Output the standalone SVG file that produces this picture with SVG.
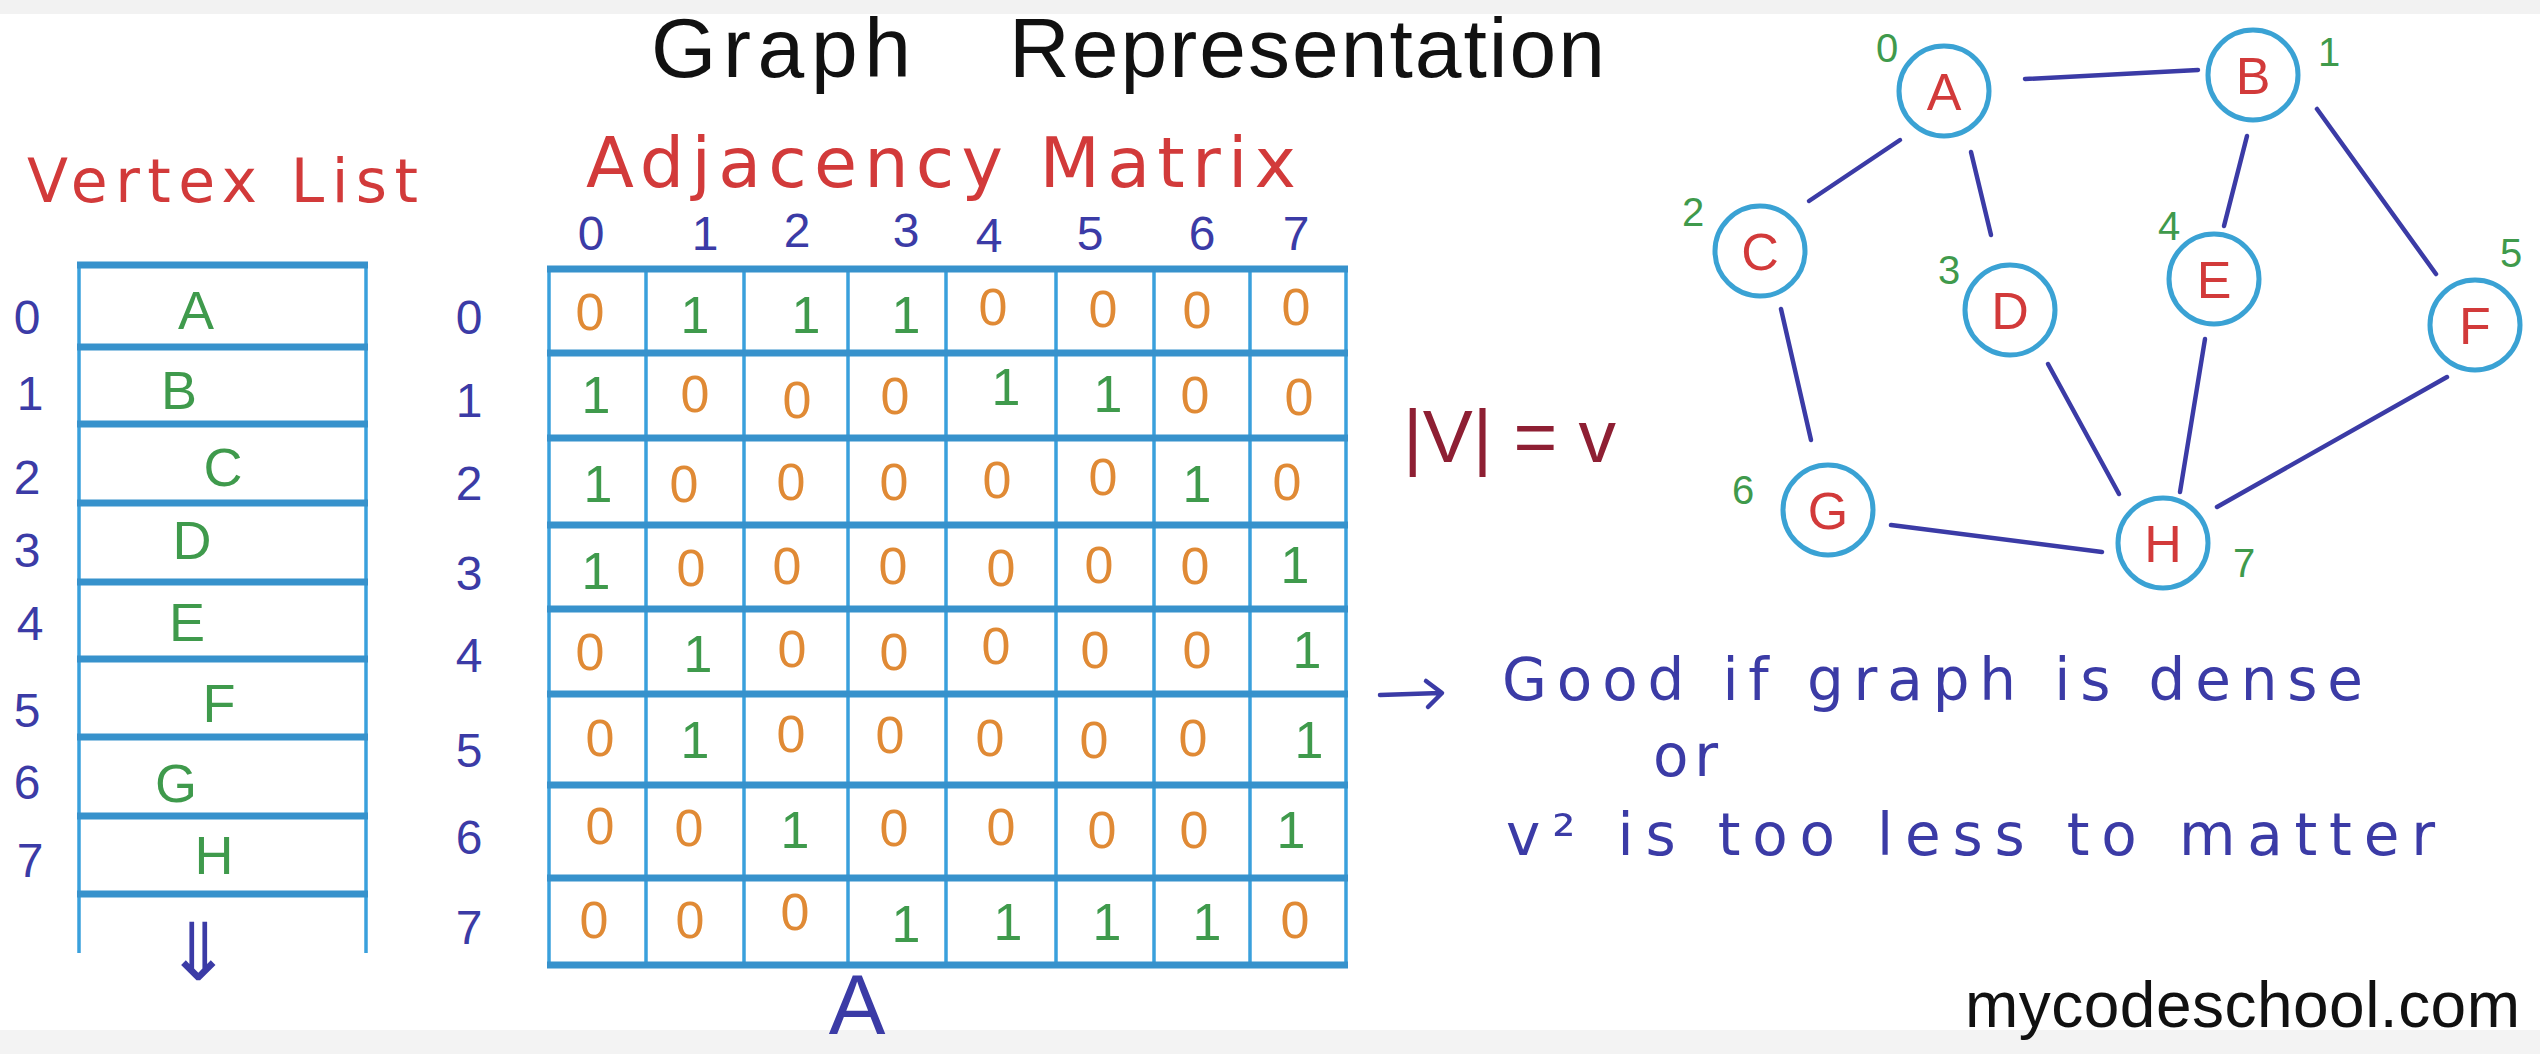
<svg xmlns="http://www.w3.org/2000/svg" width="2540" height="1054" viewBox="0 0 2540 1054">
<style>
  text { font-family: "Liberation Sans", "DejaVu Sans", sans-serif; }
  .hand { font-family: "DejaVu Sans", "Liberation Sans", sans-serif; }
  .title { font-size: 84px; fill: #111; }
  .red { fill: #d23a3a; }
  .blue { fill: #3b3ba6; }
  .green { fill: #3f9a4c; }
  .orange { fill: #e08a35; }
  .idx { font-size: 48px; fill: #3b3ba6; text-anchor: middle; }
  .cell { font-size: 52px; text-anchor: middle; }
  .vl { font-size: 54px; fill: #3f9a4c; text-anchor: middle; }
  .hline { stroke: #3792cc; stroke-width: 7; stroke-linecap: butt; }
  .vline { stroke: #3aa0dc; stroke-width: 3.5; }
  .node circle { fill: #fff; stroke: #3aa2d4; stroke-width: 5; }
  .node text.lbl { font-size: 52px; fill: #d23a3a; text-anchor: middle; }
  .node text.num { font-size: 40px; fill: #3f9a4c; text-anchor: middle; }
  .edge { stroke: #3b3ba6; stroke-width: 4.5; stroke-linecap: round; fill: none; }
  .note { font-size: 58px; fill: #3b3ba6; }
  .pen { stroke: #3b3ba6; stroke-width: 4.5; stroke-linecap: round; stroke-linejoin: round; fill: none; }
</style>
<rect x="0" y="0" width="2540" height="1054" fill="#ffffff"/>
<rect x="0" y="0" width="2540" height="14" fill="#f2f2f2"/>
<rect x="0" y="1030" width="2540" height="24" fill="#f3f3f3"/>

<!-- Title -->
<g id="title">
  <text class="title" x="651" y="77" textLength="260">Graph</text>
  <text class="title" x="1009" y="77" textLength="596">Representation</text>
</g>

<!-- Vertex list -->
<g id="vertex-list">
  <text class="red hand" x="27" y="202" font-size="60" textLength="391">Vertex List</text>
  <g>
    <line class="vline" x1="79" y1="263" x2="79" y2="953"/>
    <line class="vline" x1="366" y1="263" x2="366" y2="953"/>
    <line class="hline" x1="77" y1="265" x2="368" y2="265"/>
    <line class="hline" x1="77" y1="347" x2="368" y2="347"/>
    <line class="hline" x1="77" y1="424" x2="368" y2="424"/>
    <line class="hline" x1="77" y1="503" x2="368" y2="503"/>
    <line class="hline" x1="77" y1="582" x2="368" y2="582"/>
    <line class="hline" x1="77" y1="659" x2="368" y2="659"/>
    <line class="hline" x1="77" y1="737" x2="368" y2="737"/>
    <line class="hline" x1="77" y1="816" x2="368" y2="816"/>
    <line class="hline" x1="77" y1="894" x2="368" y2="894"/>
  </g>
  <text class="idx" x="27" y="334">0</text>
  <text class="idx" x="30" y="410">1</text>
  <text class="idx" x="27" y="494">2</text>
  <text class="idx" x="27" y="567">3</text>
  <text class="idx" x="30" y="640">4</text>
  <text class="idx" x="27" y="727">5</text>
  <text class="idx" x="27" y="799">6</text>
  <text class="idx" x="30" y="877">7</text>
  <text class="vl" x="196" y="329">A</text>
  <text class="vl" x="179" y="409">B</text>
  <text class="vl" x="223" y="486">C</text>
  <text class="vl" x="192" y="559">D</text>
  <text class="vl" x="187" y="641">E</text>
  <text class="vl" x="219" y="722">F</text>
  <text class="vl" x="176" y="802">G</text>
  <text class="vl" x="214" y="874">H</text>
  <text class="blue" x="198" y="980" font-size="80" text-anchor="middle">⇓</text>
</g>

<!-- Adjacency matrix -->
<g id="adjacency-matrix">
  <text class="red hand" x="586" y="187" font-size="70" textLength="710">Adjacency Matrix</text>
  <text class="idx" x="591" y="250">0</text>
  <text class="idx" x="705" y="250">1</text>
  <text class="idx" x="797" y="247">2</text>
  <text class="idx" x="906" y="247">3</text>
  <text class="idx" x="989" y="252">4</text>
  <text class="idx" x="1090" y="250">5</text>
  <text class="idx" x="1202" y="250">6</text>
  <text class="idx" x="1296" y="250">7</text>

  <text class="idx" x="469" y="334">0</text>
  <text class="idx" x="469" y="417">1</text>
  <text class="idx" x="469" y="500">2</text>
  <text class="idx" x="469" y="590">3</text>
  <text class="idx" x="469" y="672">4</text>
  <text class="idx" x="469" y="767">5</text>
  <text class="idx" x="469" y="854">6</text>
  <text class="idx" x="469" y="944">7</text>

  <g>
    <line class="vline" x1="549" y1="267" x2="549" y2="967"/>
    <line class="vline" x1="646" y1="267" x2="646" y2="967"/>
    <line class="vline" x1="744" y1="267" x2="744" y2="967"/>
    <line class="vline" x1="848" y1="267" x2="848" y2="967"/>
    <line class="vline" x1="946" y1="267" x2="946" y2="967"/>
    <line class="vline" x1="1056" y1="267" x2="1056" y2="967"/>
    <line class="vline" x1="1154" y1="267" x2="1154" y2="967"/>
    <line class="vline" x1="1250" y1="267" x2="1250" y2="967"/>
    <line class="vline" x1="1346" y1="267" x2="1346" y2="967"/>
    <line class="hline" x1="547" y1="269" x2="1348" y2="269"/>
    <line class="hline" x1="547" y1="353" x2="1348" y2="353"/>
    <line class="hline" x1="547" y1="438" x2="1348" y2="438"/>
    <line class="hline" x1="547" y1="525" x2="1348" y2="525"/>
    <line class="hline" x1="547" y1="609" x2="1348" y2="609"/>
    <line class="hline" x1="547" y1="694" x2="1348" y2="694"/>
    <line class="hline" x1="547" y1="785" x2="1348" y2="785"/>
    <line class="hline" x1="547" y1="878" x2="1348" y2="878"/>
    <line class="hline" x1="547" y1="965" x2="1348" y2="965"/>
  </g>

  <!-- row 0 -->
  <text class="cell orange" x="590" y="330">0</text>
  <text class="cell green" x="695" y="333">1</text>
  <text class="cell green" x="806" y="333">1</text>
  <text class="cell green" x="906" y="333">1</text>
  <text class="cell orange" x="993" y="325">0</text>
  <text class="cell orange" x="1103" y="327">0</text>
  <text class="cell orange" x="1197" y="328">0</text>
  <text class="cell orange" x="1296" y="325">0</text>
  <!-- row 1 -->
  <text class="cell green" x="596" y="413">1</text>
  <text class="cell orange" x="695" y="412">0</text>
  <text class="cell orange" x="797" y="418">0</text>
  <text class="cell orange" x="895" y="414">0</text>
  <text class="cell green" x="1006" y="405">1</text>
  <text class="cell green" x="1108" y="412">1</text>
  <text class="cell orange" x="1195" y="413">0</text>
  <text class="cell orange" x="1299" y="415">0</text>
  <!-- row 2 -->
  <text class="cell green" x="598" y="502">1</text>
  <text class="cell orange" x="684" y="502">0</text>
  <text class="cell orange" x="791" y="500">0</text>
  <text class="cell orange" x="894" y="500">0</text>
  <text class="cell orange" x="997" y="498">0</text>
  <text class="cell orange" x="1103" y="495">0</text>
  <text class="cell green" x="1197" y="502">1</text>
  <text class="cell orange" x="1287" y="500">0</text>
  <!-- row 3 -->
  <text class="cell green" x="596" y="589">1</text>
  <text class="cell orange" x="691" y="586">0</text>
  <text class="cell orange" x="787" y="584">0</text>
  <text class="cell orange" x="893" y="584">0</text>
  <text class="cell orange" x="1001" y="586">0</text>
  <text class="cell orange" x="1099" y="583">0</text>
  <text class="cell orange" x="1195" y="584">0</text>
  <text class="cell green" x="1295" y="583">1</text>
  <!-- row 4 -->
  <text class="cell orange" x="590" y="670">0</text>
  <text class="cell green" x="698" y="672">1</text>
  <text class="cell orange" x="792" y="667">0</text>
  <text class="cell orange" x="894" y="670">0</text>
  <text class="cell orange" x="996" y="664">0</text>
  <text class="cell orange" x="1095" y="668">0</text>
  <text class="cell orange" x="1197" y="668">0</text>
  <text class="cell green" x="1307" y="668">1</text>
  <!-- row 5 -->
  <text class="cell orange" x="600" y="756">0</text>
  <text class="cell green" x="695" y="758">1</text>
  <text class="cell orange" x="791" y="752">0</text>
  <text class="cell orange" x="890" y="753">0</text>
  <text class="cell orange" x="990" y="756">0</text>
  <text class="cell orange" x="1094" y="758">0</text>
  <text class="cell orange" x="1193" y="756">0</text>
  <text class="cell green" x="1309" y="758">1</text>
  <!-- row 6 -->
  <text class="cell orange" x="600" y="844">0</text>
  <text class="cell orange" x="689" y="846">0</text>
  <text class="cell green" x="795" y="848">1</text>
  <text class="cell orange" x="894" y="846">0</text>
  <text class="cell orange" x="1001" y="845">0</text>
  <text class="cell orange" x="1102" y="848">0</text>
  <text class="cell orange" x="1194" y="848">0</text>
  <text class="cell green" x="1291" y="848">1</text>
  <!-- row 7 -->
  <text class="cell orange" x="594" y="938">0</text>
  <text class="cell orange" x="690" y="938">0</text>
  <text class="cell orange" x="795" y="930">0</text>
  <text class="cell green" x="906" y="942">1</text>
  <text class="cell green" x="1008" y="940">1</text>
  <text class="cell green" x="1107" y="940">1</text>
  <text class="cell green" x="1207" y="940">1</text>
  <text class="cell orange" x="1295" y="938">0</text>

  <text class="blue" x="857" y="1034" font-size="85" text-anchor="middle">A</text>
</g>

<!-- |V| = v -->
<g id="cardinality">
  <text x="1403" y="462" font-size="75" fill="#8e1f33" textLength="213">|V| = v</text>
</g>

<!-- Notes -->
<g id="notes">
  <path class="pen" d="M1380 695 L1440 693 M1426 681 L1442 693 L1428 707"/>
  <text class="note hand" x="1502" y="700" textLength="861">Good if graph is dense</text>
  <text class="note hand" x="1653" y="776" font-size="50" textLength="65">or</text>
  <text class="note hand" x="1506" y="855" textLength="929">v² is too less to matter</text>
</g>

<!-- Graph edges -->
<g id="edges">
  <line class="edge" x1="2025" y1="79" x2="2198" y2="70" stroke-width="5.5"/>
  <line class="edge" x1="1900" y1="140" x2="1809" y2="201"/>
  <line class="edge" x1="1971" y1="152" x2="1991" y2="235"/>
  <line class="edge" x1="2247" y1="136" x2="2224" y2="226"/>
  <line class="edge" x1="2317" y1="109" x2="2436" y2="274"/>
  <line class="edge" x1="1781" y1="309" x2="1811" y2="440"/>
  <line class="edge" x1="2048" y1="364" x2="2119" y2="494"/>
  <line class="edge" x1="2205" y1="339" x2="2180" y2="492"/>
  <line class="edge" x1="2447" y1="377" x2="2217" y2="507"/>
  <line class="edge" x1="1891" y1="525" x2="2102" y2="552" stroke-width="5.5"/>
</g>

<!-- Graph nodes -->
<g id="node-A" class="node"><circle cx="1944" cy="91" r="45"/><text class="lbl" x="1944" y="110">A</text><text class="num" x="1887" y="62">0</text></g>
<g id="node-B" class="node"><circle cx="2253" cy="75" r="45"/><text class="lbl" x="2253" y="94">B</text><text class="num" x="2329" y="66">1</text></g>
<g id="node-C" class="node"><circle cx="1760" cy="251" r="45"/><text class="lbl" x="1760" y="270">C</text><text class="num" x="1693" y="226">2</text></g>
<g id="node-D" class="node"><circle cx="2010" cy="310" r="45"/><text class="lbl" x="2010" y="329">D</text><text class="num" x="1949" y="284">3</text></g>
<g id="node-E" class="node"><circle cx="2214" cy="279" r="45"/><text class="lbl" x="2214" y="298">E</text><text class="num" x="2169" y="240">4</text></g>
<g id="node-F" class="node"><circle cx="2475" cy="325" r="45"/><text class="lbl" x="2475" y="344">F</text><text class="num" x="2511" y="267">5</text></g>
<g id="node-G" class="node"><circle cx="1828" cy="510" r="45"/><text class="lbl" x="1828" y="529">G</text><text class="num" x="1743" y="504">6</text></g>
<g id="node-H" class="node"><circle cx="2163" cy="543" r="45"/><text class="lbl" x="2163" y="562">H</text><text class="num" x="2244" y="577">7</text></g>

<!-- Watermark -->
<g id="watermark">
  <text x="1965" y="1027" font-family="'Liberation Sans Narrow', 'Liberation Sans', sans-serif" font-size="64" fill="#111" textLength="555">mycodeschool.com</text>
</g>
</svg>
